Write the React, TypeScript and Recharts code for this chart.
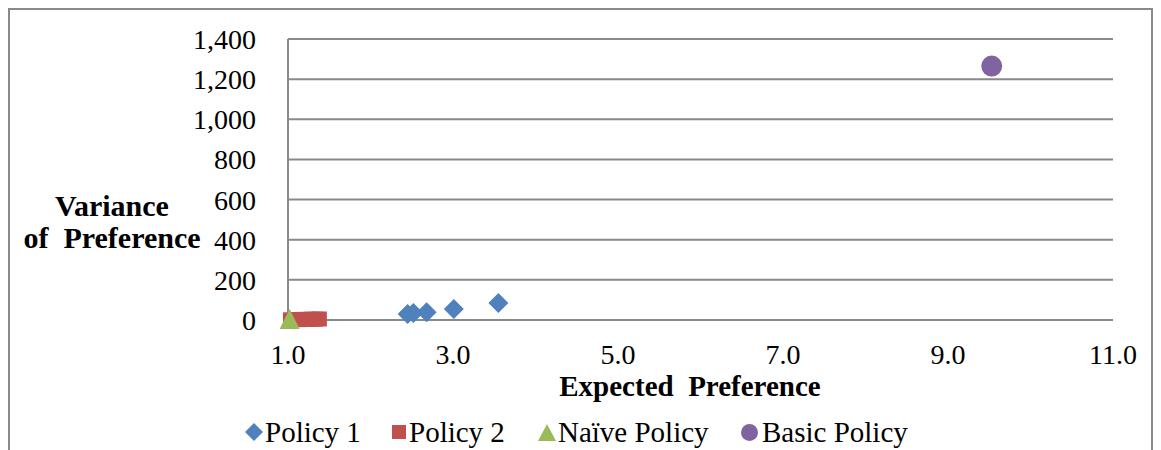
import React from 'react';
import { ScatterChart, Scatter, XAxis, YAxis, CartesianGrid, Legend } from 'recharts';

const policy1X = [2.45, 2.52, 2.68, 3.01, 3.55];
const policy1Y = [30, 35, 38, 55, 85];
const policy2X = [1.03, 1.08, 1.13, 1.18, 1.23, 1.28, 1.33, 1.38];
const policy2Y = [1, 2, 2, 3, 3, 4, 4, 5];
const naiveX = [1.02];
const naiveY = [0];
const basicX = [9.53];
const basicY = [1265];
const xTicks = [1, 3, 5, 7, 9, 11];
const yTicks = [0, 200, 400, 600, 800, 1000, 1200, 1400];
const seriesNames = ['Policy 1', 'Policy 2', 'Naïve Policy', 'Basic Policy'];
const seriesColors = ['#4F81BD', '#C0504D', '#9BBB59', '#8064A2'];
const xTitle = 'Expected\u00a0\u00a0Preference';
const yTitleLines = ['Variance', 'of\u00a0\u00a0Preference'];

const zip = (xs: number[], ys: number[]) => xs.map((x, i) => ({ x, y: ys[i] }));
const p1 = zip(policy1X, policy1Y);
const p2 = zip(policy2X, policy2Y);
const nv = zip(naiveX, naiveY);
const bs = zip(basicX, basicY);

const FONT = '"Liberation Serif", "Times New Roman", serif';
const GRID = '#898989';

const Diamond = (props: any) => {
  const { cx, cy, fill } = props;
  return <polygon points={`${cx},${cy - 10} ${cx + 10},${cy} ${cx},${cy + 10} ${cx - 10},${cy}`} fill={fill} />;
};
const Square = (props: any) => {
  const { cx, cy, fill } = props;
  return <rect x={cx - 7.5} y={cy - 7.5} width={15} height={15} fill={fill} />;
};
const Triangle = (props: any) => {
  const { cx, cy, fill } = props;
  return <polygon points={`${cx},${cy - 11} ${cx + 10},${cy + 9} ${cx - 10},${cy + 9}`} fill={fill} />;
};
const Dot = (props: any) => {
  const { cx, cy, fill } = props;
  return <circle cx={cx} cy={cy} r={10.5} fill={fill} />;
};

const legendMarker = (i: number) => {
  const c = seriesColors[i];
  if (i === 0)
    return (
      <svg width={18} height={18}>
        <polygon points="9,0 18,9 9,18 0,9" fill={c} />
      </svg>
    );
  if (i === 1)
    return (
      <svg width={14} height={14}>
        <rect x={0} y={0} width={14} height={14} fill={c} />
      </svg>
    );
  if (i === 2)
    return (
      <svg width={18} height={17}>
        <polygon points="9,0 18,17 0,17" fill={c} />
      </svg>
    );
  return (
    <svg width={17} height={17}>
      <circle cx={8.5} cy={8.5} r={8.5} fill={c} />
    </svg>
  );
};

const legendMarkerLeft = [245, 392, 538, 741];
const legendTextLeft = [265, 409, 558, 762];

const LegendContent = () => (
  <div
    style={{
      position: 'relative',
      height: 36,
      width: 1113,
      fontFamily: FONT,
      fontSize: 29,
      color: '#000',
      whiteSpace: 'nowrap',
    }}
  >
    {seriesNames.map((n, i) => (
      <React.Fragment key={n}>
        <div
          style={{
            position: 'absolute',
            left: legendMarkerLeft[i],
            top: 0,
            height: 36,
            display: 'flex',
            alignItems: 'center',
          }}
        >
          {legendMarker(i)}
        </div>
        <div
          style={{
            position: 'absolute',
            left: legendTextLeft[i],
            top: 0,
            height: 36,
            lineHeight: '36px',
          }}
        >
          {n}
        </div>
      </React.Fragment>
    ))}
  </div>
);

// Y title; also draws the outer chart frame (inside the SVG)
const YTitle = (props: any) => {
  const vb = props.viewBox || { x: 0, y: 39, width: 288, height: 281 };
  const cx = vb.x + 112;
  return (
    <g>
      <path d="M9,470 L9,9 L1152,9 L1152,470" fill="none" stroke={GRID} strokeWidth={2} />
      <text fontFamily={FONT} fontSize={30} fontWeight="bold" fill="#000" textAnchor="middle">
        <tspan x={cx} y={vb.y + 177}>{yTitleLines[0]}</tspan>
        <tspan x={cx} y={vb.y + 209}>{yTitleLines[1]}</tspan>
      </text>
    </g>
  );
};

const XTitle = (props: any) => {
  const vb = props.viewBox || { x: 288, y: 320, width: 825, height: 94 };
  return (
    <text
      x={vb.x + 402}
      y={vb.y + 76}
      fontFamily={FONT}
      fontSize={29}
      fontWeight="bold"
      fill="#000"
      textAnchor="middle"
    >
      {xTitle}
    </text>
  );
};

export default function App() {
  return (
    <div style={{ position: 'relative', margin: '-8px 0 0 -8px', width: 1161, height: 450, background: '#fff', overflow: 'hidden' }}>
      <ScatterChart width={1161} height={450} margin={{ top: 39, right: 48, left: 0, bottom: 0 }}>
        <CartesianGrid horizontal vertical={false} stroke={GRID} strokeWidth={2} />
        <XAxis
          type="number"
          dataKey="x"
          domain={[1, 11]}
          ticks={xTicks}
          interval={0}
          height={94}
          tickLine={false}
          tickSize={0}
          tickMargin={24}
          axisLine={{ stroke: GRID, strokeWidth: 2 }}
          tick={{ fontFamily: FONT, fontSize: 28, fill: '#000' }}
          tickFormatter={(v: number) => v.toFixed(1)}
          label={<XTitle />}
        />
        <YAxis
          type="number"
          dataKey="y"
          domain={[0, 1400]}
          ticks={yTicks}
          interval={0}
          width={288}
          tickLine={false}
          tickSize={0}
          tickMargin={32}
          axisLine={{ stroke: GRID, strokeWidth: 2 }}
          tick={{ fontFamily: FONT, fontSize: 28, fill: '#000' }}
          tickFormatter={(v: number) => v.toLocaleString('en-US')}
          label={<YTitle />}
        />
        <Legend verticalAlign="bottom" content={<LegendContent />} wrapperStyle={{ height: 36 }} />
        <Scatter name={seriesNames[1]} data={p2} fill={seriesColors[1]} shape={<Square />} isAnimationActive={false} />
        <Scatter name={seriesNames[0]} data={p1} fill={seriesColors[0]} shape={<Diamond />} isAnimationActive={false} />
        <Scatter name={seriesNames[2]} data={nv} fill={seriesColors[2]} shape={<Triangle />} isAnimationActive={false} />
        <Scatter name={seriesNames[3]} data={bs} fill={seriesColors[3]} shape={<Dot />} isAnimationActive={false} />
      </ScatterChart>
    </div>
  );
}
